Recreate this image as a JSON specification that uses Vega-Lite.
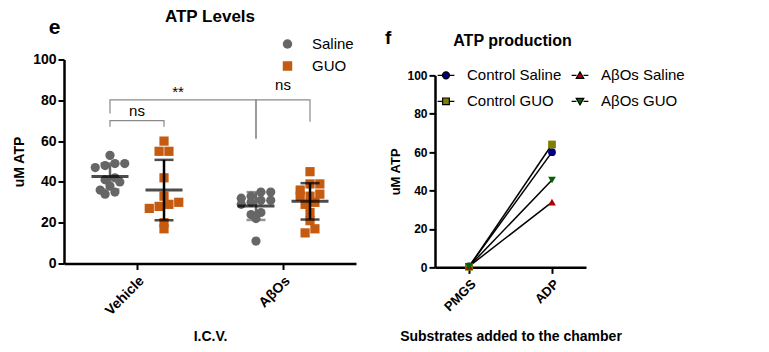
{
  "$schema": "https://vega.github.io/schema/vega-lite/v6.json",
  "padding": {"left": 12, "top": 7, "right": 5, "bottom": 5},
  "spacing": 28,
  "center": true,
  "resolve": {"scale": {"color": "independent", "shape": "independent"}},
  "config": {
    "font": "Liberation Sans",
    "view": {"stroke": null},
    "axis": {"grid": false, "domainColor": "black", "tickColor": "black", "labelColor": "black", "titleColor": "black", "labelFontWeight": "bold", "titleFontWeight": "bold", "domainWidth": 2.5, "tickWidth": 2, "tickSize": 6},
    "legend": {"labelColor": "black", "labelFont": "Liberation Sans"},
    "title": {"color": "black", "fontWeight": "bold"}
  },
  "hconcat": [
    {
      "title": {"text": "e", "anchor": "start", "fontSize": 21, "dx": 36, "offset": -30},
      "hconcat": [
        {
          "width": 292,
          "height": 204,
          "title": {"text": "ATP Levels", "fontSize": 17, "anchor": "middle", "frame": "group", "offset": 26},
          "data": {"values": [
            {"icv": "Vehicle", "treatment": "Saline", "value": 53},
            {"icv": "Vehicle", "treatment": "Saline", "value": 49},
            {"icv": "Vehicle", "treatment": "Saline", "value": 48},
            {"icv": "Vehicle", "treatment": "Saline", "value": 49},
            {"icv": "Vehicle", "treatment": "Saline", "value": 47},
            {"icv": "Vehicle", "treatment": "Saline", "value": 42},
            {"icv": "Vehicle", "treatment": "Saline", "value": 41},
            {"icv": "Vehicle", "treatment": "Saline", "value": 40},
            {"icv": "Vehicle", "treatment": "Saline", "value": 38},
            {"icv": "Vehicle", "treatment": "Saline", "value": 36},
            {"icv": "Vehicle", "treatment": "Saline", "value": 35},
            {"icv": "Vehicle", "treatment": "Saline", "value": 34},
            {"icv": "Vehicle", "treatment": "GUO", "value": 60},
            {"icv": "Vehicle", "treatment": "GUO", "value": 55},
            {"icv": "Vehicle", "treatment": "GUO", "value": 55},
            {"icv": "Vehicle", "treatment": "GUO", "value": 42},
            {"icv": "Vehicle", "treatment": "GUO", "value": 33},
            {"icv": "Vehicle", "treatment": "GUO", "value": 30},
            {"icv": "Vehicle", "treatment": "GUO", "value": 29},
            {"icv": "Vehicle", "treatment": "GUO", "value": 28},
            {"icv": "Vehicle", "treatment": "GUO", "value": 27},
            {"icv": "Vehicle", "treatment": "GUO", "value": 20},
            {"icv": "Vehicle", "treatment": "GUO", "value": 17},
            {"icv": "AβOs", "treatment": "Saline", "value": 35},
            {"icv": "AβOs", "treatment": "Saline", "value": 35},
            {"icv": "AβOs", "treatment": "Saline", "value": 33},
            {"icv": "AβOs", "treatment": "Saline", "value": 32},
            {"icv": "AβOs", "treatment": "Saline", "value": 31},
            {"icv": "AβOs", "treatment": "Saline", "value": 31},
            {"icv": "AβOs", "treatment": "Saline", "value": 30},
            {"icv": "AβOs", "treatment": "Saline", "value": 29},
            {"icv": "AβOs", "treatment": "Saline", "value": 25},
            {"icv": "AβOs", "treatment": "Saline", "value": 24},
            {"icv": "AβOs", "treatment": "Saline", "value": 22},
            {"icv": "AβOs", "treatment": "Saline", "value": 11},
            {"icv": "AβOs", "treatment": "GUO", "value": 45},
            {"icv": "AβOs", "treatment": "GUO", "value": 39},
            {"icv": "AβOs", "treatment": "GUO", "value": 39},
            {"icv": "AβOs", "treatment": "GUO", "value": 36},
            {"icv": "AβOs", "treatment": "GUO", "value": 34},
            {"icv": "AβOs", "treatment": "GUO", "value": 33},
            {"icv": "AβOs", "treatment": "GUO", "value": 33},
            {"icv": "AβOs", "treatment": "GUO", "value": 30},
            {"icv": "AβOs", "treatment": "GUO", "value": 29},
            {"icv": "AβOs", "treatment": "GUO", "value": 25},
            {"icv": "AβOs", "treatment": "GUO", "value": 21},
            {"icv": "AβOs", "treatment": "GUO", "value": 17},
            {"icv": "AβOs", "treatment": "GUO", "value": 15}
          ]},
          "layer": [
            {
              "transform": [
                {"calculate": "floor(datum.value / 4.5)", "as": "bin"},
                {"window": [{"op": "row_number", "as": "k"}], "groupby": ["icv", "treatment", "bin"], "sort": [{"field": "value", "order": "ascending"}]},
                {"joinaggregate": [{"op": "count", "as": "n"}], "groupby": ["icv", "treatment", "bin"]},
                {"calculate": "datum.treatment + '_' + (2 * datum.k - 1 - datum.n)", "as": "slot"}
              ],
              "mark": {"type": "point", "filled": true, "size": 85, "opacity": 1},
              "encoding": {
                "x": {"field": "icv", "type": "nominal", "sort": ["Vehicle", "AβOs"],
                  "scale": {"domain": ["Vehicle", "AβOs"], "paddingInner": 0.26, "paddingOuter": 0.13},
                  "axis": {"title": ["I.C.V.", ""], "titleLineHeight": 16, "labelAngle": -45, "labelFontSize": 14, "titleFontSize": 14, "titlePadding": 12, "labelPadding": 4}},
                "xOffset": {"field": "slot", "type": "nominal",
                  "scale": {"domain": ["Saline_-5", "Saline_-4", "Saline_-3", "Saline_-2", "Saline_-1", "Saline_0", "Saline_1", "Saline_2", "Saline_3", "Saline_4", "Saline_5", "GUO_-5", "GUO_-4", "GUO_-3", "GUO_-2", "GUO_-1", "GUO_0", "GUO_1", "GUO_2", "GUO_3", "GUO_4", "GUO_5"]}},
                "y": {"field": "value", "type": "quantitative", "scale": {"domain": [0, 100]},
                  "axis": {"title": "uM ATP", "values": [0, 20, 40, 60, 80, 100], "labelOverlap": false, "labelFontSize": 14, "titleFontSize": 14, "labelPadding": 2, "titlePadding": 6}},
                "color": {"field": "treatment", "type": "nominal", "scale": {"domain": ["Saline", "GUO"], "range": ["#666666", "#C55A11"]},
                  "legend": {"orient": "none", "legendX": 216, "legendY": -23, "title": null, "labelFontSize": 15, "symbolSize": 90, "rowPadding": 6, "labelOffset": 17}},
                "shape": {"field": "treatment", "type": "nominal", "scale": {"domain": ["Saline", "GUO"], "range": ["circle", "square"]},
                  "legend": {"orient": "none", "legendX": 216, "legendY": -23, "title": null, "labelFontSize": 15, "symbolSize": 90, "rowPadding": 6, "labelOffset": 17}}
              }
            },
            {
              "transform": [
                {"aggregate": [{"op": "mean", "field": "value", "as": "m"}, {"op": "stdev", "field": "value", "as": "sd"}], "groupby": ["icv", "treatment"]},
                {"calculate": "datum.m - datum.sd", "as": "lo"},
                {"calculate": "datum.m + datum.sd", "as": "hi"},
                {"calculate": "datum.treatment + '_0'", "as": "slot"}
              ],
              "mark": {"type": "rule", "strokeWidth": 2.5},
              "encoding": {
                "x": {"field": "icv", "type": "nominal"},
                "xOffset": {"field": "slot", "type": "nominal"},
                "y": {"field": "lo", "type": "quantitative"},
                "y2": {"field": "hi"},
                "color": {"condition": {"test": "datum.treatment === 'Saline'", "value": "#666666"}, "value": "#000000"}
              }
            },
            {
              "transform": [
                {"aggregate": [{"op": "mean", "field": "value", "as": "m"}, {"op": "stdev", "field": "value", "as": "sd"}], "groupby": ["icv", "treatment"]},
                {"calculate": "datum.m - datum.sd", "as": "lo"},
                {"calculate": "datum.m + datum.sd", "as": "hi"},
                {"calculate": "datum.treatment + '_0'", "as": "slot"},
                {"fold": ["lo", "hi"], "as": ["end", "v"]}
              ],
              "mark": {"type": "tick", "size": 19, "thickness": 2.5},
              "encoding": {
                "x": {"field": "icv", "type": "nominal"},
                "xOffset": {"field": "slot", "type": "nominal"},
                "y": {"field": "v", "type": "quantitative"},
                "color": {"condition": {"test": "datum.treatment === 'Saline'", "value": "#666666"}, "value": "#000000"}
              }
            },
            {
              "transform": [
                {"aggregate": [{"op": "mean", "field": "value", "as": "m"}], "groupby": ["icv", "treatment"]},
                {"calculate": "datum.treatment + '_0'", "as": "slot"}
              ],
              "mark": {"type": "tick", "size": 37, "thickness": 3, "color": "#000000"},
              "encoding": {
                "x": {"field": "icv", "type": "nominal"},
                "xOffset": {"field": "slot", "type": "nominal"},
                "y": {"field": "m", "type": "quantitative"}
              }
            },
            {
              "data": {"values": [
                {"bracket": "star", "icv": "Vehicle", "treatment": "Saline", "value": 73.5, "vertex": 1},
                {"bracket": "star", "icv": "Vehicle", "treatment": "Saline", "value": 80.2, "vertex": 2},
                {"bracket": "star", "icv": "AβOs", "treatment": "Saline", "value": 80.2, "vertex": 3},
                {"bracket": "star", "icv": "AβOs", "treatment": "Saline", "value": 61, "vertex": 4},
                {"bracket": "ns1", "icv": "Vehicle", "treatment": "Saline", "value": 67, "vertex": 1},
                {"bracket": "ns1", "icv": "Vehicle", "treatment": "Saline", "value": 70, "vertex": 2},
                {"bracket": "ns1", "icv": "Vehicle", "treatment": "GUO", "value": 70, "vertex": 3},
                {"bracket": "ns1", "icv": "Vehicle", "treatment": "GUO", "value": 67, "vertex": 4},
                {"bracket": "ns2", "icv": "AβOs", "treatment": "Saline", "value": 61.4, "vertex": 1},
                {"bracket": "ns2", "icv": "AβOs", "treatment": "Saline", "value": 80.2, "vertex": 2},
                {"bracket": "ns2", "icv": "AβOs", "treatment": "GUO", "value": 80.2, "vertex": 3},
                {"bracket": "ns2", "icv": "AβOs", "treatment": "GUO", "value": 69.5, "vertex": 4}
              ]},
              "transform": [{"calculate": "datum.treatment + '_0'", "as": "slot"}],
              "mark": {"type": "line", "color": "#8a8a8a", "strokeWidth": 1.2},
              "encoding": {
                "x": {"field": "icv", "type": "nominal"},
                "xOffset": {"field": "slot", "type": "nominal"},
                "y": {"field": "value", "type": "quantitative"},
                "detail": {"field": "bracket"},
                "order": {"field": "vertex", "type": "quantitative"}
              }
            },
            {
              "data": {"values": [
                {"label": "ns", "icv": "Vehicle", "value": 72.5},
                {"label": "ns", "icv": "AβOs", "value": 84.8}
              ]},
              "mark": {"type": "text", "fontSize": 15, "baseline": "alphabetic", "color": "black"},
              "encoding": {
                "x": {"field": "icv", "type": "nominal"},
                "y": {"field": "value", "type": "quantitative"},
                "text": {"field": "label"}
              }
            },
            {
              "data": {"values": [
                {"label": "**", "icv": "Vehicle", "value": 81.5}
              ]},
              "mark": {"type": "text", "fontSize": 15, "baseline": "alphabetic", "color": "black", "dx": 41},
              "encoding": {
                "x": {"field": "icv", "type": "nominal"},
                "y": {"field": "value", "type": "quantitative"},
                "text": {"field": "label"}
              }
            }
          ]
        }
      ]
    },
    {
      "title": {"text": "f", "anchor": "start", "fontSize": 19, "dx": -5, "offset": -41},
      "hconcat": [
        {
          "width": 151,
          "height": 192,
          "title": {"text": ["", "ATP production"], "lineHeight": 26, "fontSize": 16, "anchor": "middle", "frame": "group", "dx": 2, "offset": 17},
          "data": {"values": [
            {"series": "Control Saline", "substrate": "PMGS", "value": 0.5},
            {"series": "Control Saline", "substrate": "ADP", "value": 60},
            {"series": "Control GUO", "substrate": "PMGS", "value": 0.3},
            {"series": "Control GUO", "substrate": "ADP", "value": 64},
            {"series": "AβOs Saline", "substrate": "PMGS", "value": 0.5},
            {"series": "AβOs Saline", "substrate": "ADP", "value": 34},
            {"series": "AβOs GUO", "substrate": "PMGS", "value": 0.5},
            {"series": "AβOs GUO", "substrate": "ADP", "value": 45.5}
          ]},
          "resolve": {"scale": {"color": "independent", "shape": "independent"}},
          "layer": [
            {
              "mark": {"type": "line", "color": "black", "strokeWidth": 1.5},
              "encoding": {
                "x": {"field": "substrate", "type": "nominal", "sort": ["PMGS", "ADP"],
                  "scale": {"type": "point", "domain": ["PMGS", "ADP"], "padding": 0.41},
                  "axis": {"title": "Substrates added to the chamber", "labelAngle": -45, "labelFontSize": 13, "titleFontSize": 14, "titlePadding": 16, "labelPadding": 4}},
                "y": {"field": "value", "type": "quantitative", "scale": {"domain": [0, 100]},
                  "axis": {"title": "uM ATP", "tickCount": 5, "labelOverlap": false, "labelFontSize": 12, "titleFontSize": 13, "labelPadding": 2, "titlePadding": 4}},
                "detail": {"field": "series"}
              }
            },
            {
              "mark": {"type": "point", "filled": true, "size": 60, "opacity": 1},
              "encoding": {
                "x": {"field": "substrate", "type": "nominal", "sort": ["PMGS", "ADP"]},
                "y": {"field": "value", "type": "quantitative"},
                "color": {"field": "series", "type": "nominal",
                  "scale": {"domain": ["Control Saline", "Control GUO", "AβOs Saline", "AβOs GUO"], "range": ["#000080", "#808000", "#B00000", "#006400"]},
                  "legend": null},
                "shape": {"field": "series", "type": "nominal",
                  "scale": {"domain": ["Control Saline", "Control GUO", "AβOs Saline", "AβOs GUO"], "range": ["circle", "square", "triangle-up", "triangle-down"]},
                  "legend": null}
              }
            },
            {
              "transform": [{"filter": "false"}],
              "mark": {"type": "point", "filled": true, "opacity": 1},
              "encoding": {
                "x": {"field": "substrate", "type": "nominal", "sort": ["PMGS", "ADP"]},
                "y": {"field": "value", "type": "quantitative"},
                "color": {"field": "series", "type": "nominal",
                  "scale": {"domain": ["Control Saline", "Control GUO", "AβOs Saline", "AβOs GUO"], "range": ["#000080", "#808000", "#B00000", "#006400"]},
                  "legend": {"orient": "none", "legendX": 2, "legendY": -9, "columns": 2, "title": null, "labelFontSize": 15, "symbolSize": 280, "rowPadding": 9, "columnPadding": 7, "labelOffset": 12, "symbolStrokeColor": "black", "symbolStrokeWidth": 1.2}},
                "shape": {"field": "series", "type": "nominal",
                  "scale": {"domain": ["Control Saline", "Control GUO", "AβOs Saline", "AβOs GUO"], "range": [
                    "M-1,0H-0.42M0.42,0H1M0.42,0A0.42,0.42,0,1,1,-0.42,0A0.42,0.42,0,1,1,0.42,0Z",
                    "M-1,0H-0.4M0.4,0H1M-0.4,-0.4H0.4V0.4H-0.4Z",
                    "M-1,0H-0.42M0.42,0H1M0,-0.42L0.45,0.35L-0.45,0.35Z",
                    "M-1,0H-0.42M0.42,0H1M0,0.42L0.45,-0.35L-0.45,-0.35Z"]},
                  "legend": {"orient": "none", "legendX": 2, "legendY": -9, "columns": 2, "title": null, "labelFontSize": 15, "symbolSize": 280, "rowPadding": 9, "columnPadding": 7, "labelOffset": 12, "symbolStrokeColor": "black", "symbolStrokeWidth": 1.2}}
              }
            }
          ]
        }
      ]
    }
  ]
}
